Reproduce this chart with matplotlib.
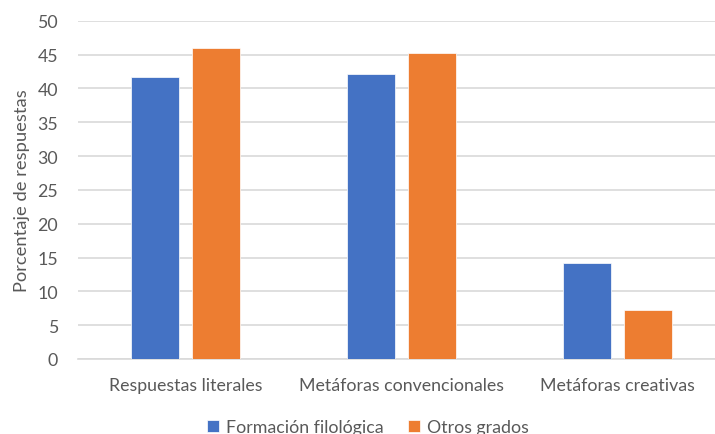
import numpy as np
import matplotlib.pyplot as plt

categories = ['Respuestas literales', 'Metáforas convencionales', 'Metáforas creativas']
filologica = [41.7, 42.1, 14.2]
otros = [45.9, 45.3, 7.3]
series_names = ['Formación filológica', 'Otros grados']

plt.rcParams['font.family'] = ['Lato', 'DejaVu Sans']

fig = plt.figure(figsize=(7.15, 4.35), dpi=100)
ax = fig.add_axes([77.5 / 715, 75 / 435, 648 / 715, 338.3 / 435])

x = np.arange(len(categories))
w = 0.222
off = 0.141
ax.bar(x - off, filologica, w, color='#4472C4', edgecolor='white', linewidth=0.5,
       label=series_names[0], zorder=3)
ax.bar(x + off, otros, w, color='#ED7D31', edgecolor='white', linewidth=0.5,
       label=series_names[1], zorder=3)

ax.set_xlim(-0.5, 2.5)
ax.set_ylim(0, 50)
ax.set_yticks(range(0, 51, 5))
ax.set_xticks(x)
ax.set_xticklabels(categories)
ax.yaxis.grid(True, color='#d9d9d9', linewidth=1.2, zorder=0)
for s in ['top', 'right', 'left']:
    ax.spines[s].set_visible(False)
ax.spines['bottom'].set_color('#d9d9d9')
ax.spines['bottom'].set_linewidth(1.2)
ax.tick_params(axis='both', length=0, colors='#595959', labelsize=12.8)
ax.tick_params(axis='x', pad=13)
ax.tick_params(axis='y', pad=14)
ax.set_ylabel('Porcentaje de respuestas', fontsize=13.2, color='#595959', labelpad=5)

fig.legend(loc='center', bbox_to_anchor=(368 / 715, 1 - 428 / 435), ncol=2,
           frameon=False, fontsize=12.8, labelcolor='#595959', handlelength=0.65,
           handleheight=0.65, handletextpad=0.4, columnspacing=1.4)

fig.savefig('out.png', dpi=100)
